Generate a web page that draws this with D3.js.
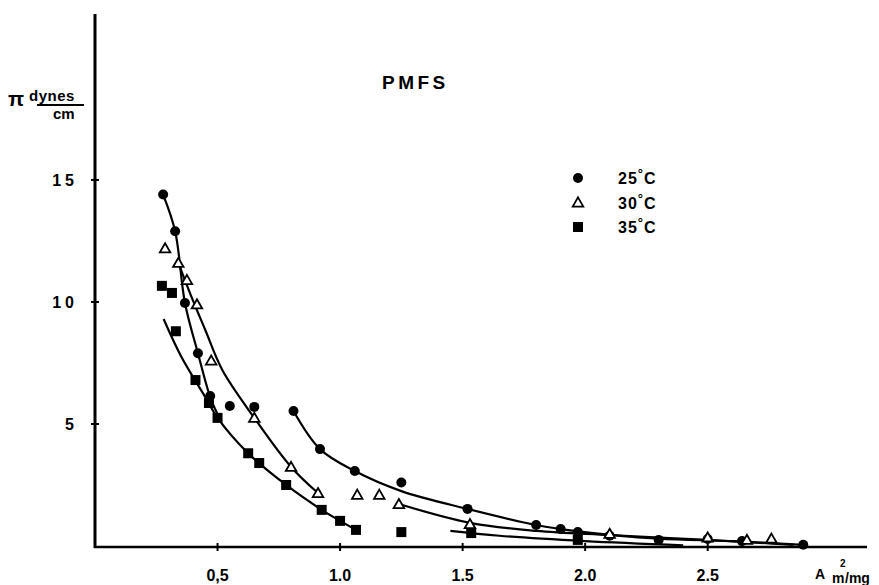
<!DOCTYPE html>
<html>
<head>
<meta charset="utf-8">
<script src="https://cdn.jsdelivr.net/npm/d3@7"></script>
<style>
  body { margin: 0; background: #fff; }
  text { font-family: "Liberation Sans", Arial, sans-serif; font-weight: bold; fill: #000; }
</style>
</head>
<body>
<div id="chart"></div>
<script>
// measured points, [area m2/mg, pressure dynes/cm]
const points25 = [
    [0.278, 14.4], [0.327, 12.9], [0.367, 9.96], [0.42, 7.9], [0.47, 6.15],
    [0.55, 5.74], [0.65, 5.7], [0.81, 5.53], [0.918, 3.97], [1.06, 3.07],
    [1.25, 2.6], [1.52, 1.52], [1.80, 0.86], [1.90, 0.70], [1.97, 0.57],
    [2.10, 0.42], [2.30, 0.25], [2.50, 0.29], [2.64, 0.2], [2.89, 0.05]
];
const points30 = [
    [0.286, 12.2], [0.34, 11.6], [0.375, 10.9], [0.416, 9.9], [0.474, 7.6],
    [0.65, 5.25], [0.80, 3.24], [0.91, 2.17], [1.07, 2.1], [1.16, 2.1],
    [1.24, 1.72], [1.53, 0.9], [2.10, 0.5], [2.50, 0.35], [2.66, 0.25], [2.76, 0.3]
];
const points35 = [
    [0.273, 10.66], [0.314, 10.37], [0.33, 8.8], [0.41, 6.8], [0.465, 5.86],
    [0.50, 5.25], [0.625, 3.8], [0.67, 3.4], [0.78, 2.5], [0.925, 1.48],
    [1.0, 1.03], [1.065, 0.66], [1.25, 0.57], [1.535, 0.53], [1.97, 0.25]
];

// hand drawn fitted curves
const curve25a = [[0.278, 14.4], [0.327, 12.9], [0.367, 9.96], [0.42, 7.9], [0.47, 6.1], [0.50, 5.4]];
const curve25b = [[0.81, 5.53], [0.918, 3.97], [1.06, 3.07], [1.25, 2.25], [1.52, 1.52], [1.80, 0.86],
    [1.97, 0.6], [2.30, 0.3], [2.60, 0.2], [2.89, 0.05]];
const curve30a = [[0.34, 11.6], [0.39, 10.3], [0.45, 8.85], [0.52, 7.2], [0.65, 5.25], [0.80, 3.24], [0.91, 2.17]];
const curve30b = [[1.24, 1.72], [1.53, 0.95], [1.80, 0.62], [2.10, 0.45], [2.50, 0.25], [2.85, 0.05]];
const curve35a = [[0.28, 9.3], [0.35, 7.8], [0.45, 6.1], [0.50, 5.25], [0.625, 3.8], [0.78, 2.5],
    [0.925, 1.48], [1.0, 1.03], [1.065, 0.66]];
const curve35b = [[1.45, 0.62], [1.65, 0.42], [2.0, 0.2], [2.4, 0.03]];

const xTicks = [0.5, 1.0, 1.5, 2.0, 2.5];
const xTickLabels = ["0,5", "1.0", "1.5", "2.0", "2.5"];
const yTicks = [5, 10, 15];
const yTickLabels = ["5", "10", "15"];
const legendLabels = ["25", "30", "35"];

const width = 879;
const height = 585;

const svg = d3.select("#chart").append("svg")
    .attr("width", width)
    .attr("height", height);

const x = d3.scaleLinear([0, 3.15], [95, 867]);
const y = d3.scaleLinear([0, 21.8], [546, 14]);

// axes
svg.append("line")
    .attr("x1", x(0)).attr("x2", x(0))
    .attr("y1", 14).attr("y2", y(0) + 2)
    .attr("stroke", "#000").attr("stroke-width", 3);
svg.append("line")
    .attr("x1", x(0) - 1).attr("x2", x(3.15))
    .attr("y1", y(0) + 1).attr("y2", y(0) + 1)
    .attr("stroke", "#000").attr("stroke-width", 2.6);

svg.selectAll(".ytick")
    .data(yTicks)
    .join("line")
    .attr("x1", x(0) - 4).attr("x2", x(0) + 4)
    .attr("y1", d => y(d)).attr("y2", d => y(d))
    .attr("stroke", "#000").attr("stroke-width", 2);

svg.selectAll(".ylabel")
    .data(yTicks)
    .join("text")
    .attr("x", x(0) - 17)
    .attr("y", d => y(d) + 6)
    .attr("text-anchor", "end")
    .attr("font-size", "16px")
    .attr("letter-spacing", "4px")
    .text((d, i) => yTickLabels[i]);

svg.selectAll(".xtick")
    .data(xTicks)
    .join("line")
    .attr("x1", d => x(d)).attr("x2", d => x(d))
    .attr("y1", y(0) - 3).attr("y2", y(0) + 5)
    .attr("stroke", "#000").attr("stroke-width", 2);

svg.selectAll(".xlabel")
    .data(xTicks)
    .join("text")
    .attr("x", d => x(d))
    .attr("y", 581)
    .attr("text-anchor", "middle")
    .attr("font-size", "16px")
    .text((d, i) => xTickLabels[i]);

// axis titles
svg.append("text")
    .attr("x", 815).attr("y", 579)
    .attr("font-size", "14px")
    .text("A");
svg.append("text")
    .attr("x", 832).attr("y", 583)
    .attr("font-size", "14px")
    .text("m");
svg.append("text")
    .attr("x", 840).attr("y", 567)
    .attr("font-size", "10px")
    .text("2");
svg.append("text")
    .attr("x", 845).attr("y", 583)
    .attr("font-size", "14px")
    .text("/mg");

svg.append("text")
    .attr("x", 8).attr("y", 106)
    .attr("font-size", "21px")
    .text("π");
svg.append("text")
    .attr("x", 29).attr("y", 101)
    .attr("font-size", "15px")
    .attr("letter-spacing", "0.5px")
    .text("dynes");
svg.append("line")
    .attr("x1", 37).attr("x2", 84)
    .attr("y1", 105).attr("y2", 105)
    .attr("stroke", "#000").attr("stroke-width", 1.8);
svg.append("text")
    .attr("x", 53).attr("y", 119)
    .attr("font-size", "15px")
    .text("cm");

svg.append("text")
    .attr("x", 382).attr("y", 89)
    .attr("font-size", "19px")
    .attr("letter-spacing", "3.5px")
    .text("PMFS");

// curves
const line = d3.line()
    .x(d => x(d[0]))
    .y(d => y(d[1]))
    .curve(d3.curveCatmullRom.alpha(0.5));

svg.selectAll(".curve")
    .data([curve25a, curve25b, curve30a, curve30b, curve35a, curve35b])
    .join("path")
    .attr("d", line)
    .attr("fill", "none")
    .attr("stroke", "#000")
    .attr("stroke-width", 2.2);

// markers
const tri = d3.symbol().type(d3.symbolTriangle).size(48);

svg.selectAll(".p25")
    .data(points25)
    .join("circle")
    .attr("cx", d => x(d[0]))
    .attr("cy", d => y(d[1]))
    .attr("r", 5)
    .attr("fill", "#000");

svg.selectAll(".p30")
    .data(points30)
    .join("path")
    .attr("d", tri)
    .attr("transform", d => `translate(${x(d[0])},${y(d[1]) + 1})`)
    .attr("fill", "#fff")
    .attr("stroke", "#000")
    .attr("stroke-width", 1.8);

svg.selectAll(".p35")
    .data(points35)
    .join("rect")
    .attr("x", d => x(d[0]) - 5)
    .attr("y", d => y(d[1]) - 5)
    .attr("width", 10)
    .attr("height", 10)
    .attr("fill", "#000");

// legend
const legend = svg.append("g").attr("transform", "translate(578,178)");
const legendRow = 24.5;

legend.append("circle").attr("cx", 0).attr("cy", 0).attr("r", 5).attr("fill", "#000");
legend.append("path").attr("d", tri)
    .attr("transform", `translate(0,${legendRow + 1})`)
    .attr("fill", "#fff").attr("stroke", "#000").attr("stroke-width", 1.8);
legend.append("rect").attr("x", -5).attr("y", 2 * legendRow - 5)
    .attr("width", 10).attr("height", 10).attr("fill", "#000");

legendLabels.forEach((t, i) => {
    const lbl = legend.append("text")
        .attr("x", 40)
        .attr("y", i * legendRow + 6)
        .attr("font-size", "16px")
        .attr("letter-spacing", "1px");
    lbl.append("tspan").text(t);
    lbl.append("tspan").attr("dy", -6).attr("font-size", "13px").text("°");
    lbl.append("tspan").attr("dy", 6).text("C");
});
</script>
</body>
</html>
